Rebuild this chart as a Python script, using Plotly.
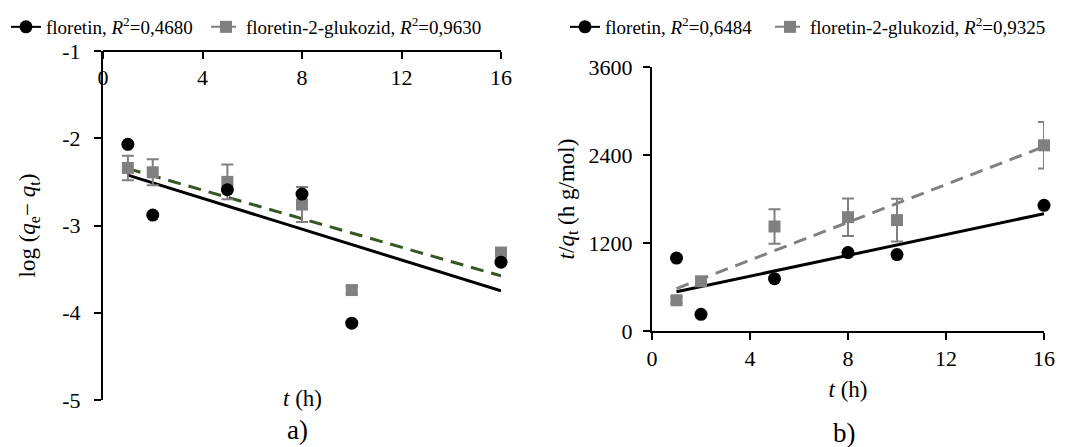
import numpy as np
import plotly.graph_objects as go

# ---- data ----
time_h = [1, 2, 5, 8, 10, 16]

log_floretin = [-2.07, -2.88, -2.59, -2.64, -4.12, -3.42]
log_glucoside = [-2.34, -2.39, -2.50, -2.76, -3.74, -3.31]
log_glucoside_err = [0.14, 0.15, 0.20, 0.20, 0.04, 0.04]

tq_floretin = [995, 228, 714, 1069, 1042, 1714]
tq_glucoside = [419, 678, 1425, 1552, 1512, 2532]
tq_glucoside_err = [40, 40, 234, 255, 291, 317]

x_ticks = [0, 4, 8, 12, 16]
log_ticks = [-1, -2, -3, -4, -5]
log_tick_text = ["-1", "-2", "-3", "-4", "-5"]
tq_ticks = [0, 1200, 2400, 3600]

legend_a = ["floretin, <i>R</i><sup>2</sup>=0,4680",
            "floretin-2-glukozid, <i>R</i><sup>2</sup>=0,9630"]
legend_b = ["floretin, <i>R</i><sup>2</sup>=0,6484",
            "floretin-2-glukozid, <i>R</i><sup>2</sup>=0,9325"]

FONT = "Liberation Serif"
GRAY = "#808080"
GREEN = "#375623"


def trend(xs, ys):
    k, b = np.polyfit(xs, ys, 1)
    tx = [min(xs), max(xs)]
    return tx, [k * t + b for t in tx]


fig = go.Figure()

# ---------- panel a ----------
tx, ty = trend(time_h, log_floretin)
fig.add_trace(go.Scatter(x=tx, y=ty, mode="lines", line=dict(color="black", width=3),
                         showlegend=False, xaxis="x", yaxis="y", cliponaxis=False))
tx, ty = trend(time_h, log_glucoside)
fig.add_trace(go.Scatter(x=tx, y=ty, mode="lines", line=dict(color=GREEN, width=3, dash="13px,8px"),
                         showlegend=False, xaxis="x", yaxis="y", cliponaxis=False))
fig.add_trace(go.Scatter(x=time_h, y=log_glucoside, mode="markers",
                         marker=dict(symbol="square", size=12, color=GRAY),
                         error_y=dict(type="data", array=log_glucoside_err, color=GRAY, thickness=2, width=6),
                         showlegend=False, xaxis="x", yaxis="y", cliponaxis=False))
fig.add_trace(go.Scatter(x=time_h, y=log_floretin, mode="markers",
                         marker=dict(symbol="circle", size=13, color="black"),
                         showlegend=False, xaxis="x", yaxis="y", cliponaxis=False))
# legend entries a
fig.add_trace(go.Scatter(x=[None], y=[None], mode="lines+markers", name=legend_a[0],
                         line=dict(color="black", width=2), marker=dict(size=13, color="black"),
                         legend="legend", xaxis="x", yaxis="y"))
fig.add_trace(go.Scatter(x=[None], y=[None], mode="lines+markers", name=legend_a[1],
                         line=dict(color=GRAY, width=2, dash="10px,5px"),
                         marker=dict(symbol="square", size=12, color=GRAY),
                         legend="legend3", xaxis="x", yaxis="y"))

# ---------- panel b ----------
tx, ty = trend(time_h, tq_floretin)
fig.add_trace(go.Scatter(x=tx, y=ty, mode="lines", line=dict(color="black", width=3),
                         showlegend=False, xaxis="x2", yaxis="y2", cliponaxis=False))
tx, ty = trend(time_h, tq_glucoside)
fig.add_trace(go.Scatter(x=tx, y=ty, mode="lines", line=dict(color=GRAY, width=3, dash="13px,8px"),
                         showlegend=False, xaxis="x2", yaxis="y2", cliponaxis=False))
fig.add_trace(go.Scatter(x=time_h, y=tq_glucoside, mode="markers",
                         marker=dict(symbol="square", size=12, color=GRAY),
                         error_y=dict(type="data", array=tq_glucoside_err, color=GRAY, thickness=2, width=6),
                         showlegend=False, xaxis="x2", yaxis="y2", cliponaxis=False))
fig.add_trace(go.Scatter(x=time_h, y=tq_floretin, mode="markers",
                         marker=dict(symbol="circle", size=13, color="black"),
                         showlegend=False, xaxis="x2", yaxis="y2", cliponaxis=False))
fig.add_trace(go.Scatter(x=[None], y=[None], mode="lines+markers", name=legend_b[0],
                         line=dict(color="black", width=2), marker=dict(size=13, color="black"),
                         legend="legend2", xaxis="x2", yaxis="y2"))
fig.add_trace(go.Scatter(x=[None], y=[None], mode="lines+markers", name=legend_b[1],
                         line=dict(color=GRAY, width=2, dash="10px,5px"),
                         marker=dict(symbol="square", size=12, color=GRAY),
                         legend="legend4", xaxis="x2", yaxis="y2"))

W, H = 1072, 447
TICK = 22
TITLE = 23
LEG = 19
axis_common = dict(showgrid=False, zeroline=False, showline=True, linecolor="black", linewidth=2,
                   tickcolor="black", tickwidth=2, ticklen=7, automargin=False,
                   tickfont=dict(family=FONT, size=TICK, color="black"))


def leg(xpx):
    return dict(orientation="h", x=xpx / W, xanchor="left", y=1 - 27 / H, yanchor="middle",
                font=dict(family=FONT, size=LEG), itemwidth=30, tracegroupgap=0,
                bgcolor="rgba(0,0,0,0)")


ya_top = 1 - 51 / H
fig.update_layout(
    template="none",
    width=W, height=H,
    margin=dict(l=0, r=0, t=0, b=0, pad=0),
    paper_bgcolor="white", plot_bgcolor="white",
    font=dict(family=FONT, size=LEG, color="black"),
    xaxis=dict(domain=[103 / W, 501 / W], range=[0, 16], tickvals=x_ticks, side="bottom",
               anchor="free", position=ya_top, ticks="outside", **axis_common),
    yaxis=dict(domain=[1 - 400 / H, ya_top], range=[-5, -1], tickvals=log_ticks,
               ticktext=log_tick_text, ticks="outside", anchor="x", ticklabelstandoff=9,
               title=dict(text="log (<i>q</i><sub>e</sub>\u2212 <i>q</i><sub>t</sub>)",
                          font=dict(family=FONT, size=TITLE), standoff=20),
               **axis_common),
    xaxis2=dict(domain=[652 / W, 1044 / W], range=[0, 16], tickvals=x_ticks,
                ticks="outside", anchor="y2",
                title=dict(text="<i>t</i> (h)", font=dict(family=FONT, size=TITLE), standoff=10),
                **axis_common),
    yaxis2=dict(domain=[1 - 331 / H, 1 - 67 / H], range=[0, 3600], tickvals=tq_ticks,
                ticks="outside", anchor="x2", ticklabelstandoff=6,
                title=dict(text="<i>t</i>/<i>q</i><sub>t</sub> (h g/mol)",
                           font=dict(family=FONT, size=TITLE), standoff=8),
                **axis_common),
    legend=leg(6),
    legend3=leg(206),
    legend2=leg(565),
    legend4=leg(770),
    annotations=[
        dict(text="<i>t</i> (h)", x=302 / W, y=1 - 398 / H, xref="paper", yref="paper",
             showarrow=False, font=dict(family=FONT, size=TITLE), xanchor="center", yanchor="middle"),
        dict(text="a)", x=297 / W, y=1 - 430 / H, xref="paper", yref="paper",
             showarrow=False, font=dict(family=FONT, size=27), xanchor="center", yanchor="middle"),
        dict(text="b)", x=844 / W, y=1 - 433 / H, xref="paper", yref="paper",
             showarrow=False, font=dict(family=FONT, size=27), xanchor="center", yanchor="middle"),
    ],
)

fig.write_html("out.html", config={"displayModeBar": False},
               post_script="document.body.style.margin='0';document.body.style.padding='0';")
